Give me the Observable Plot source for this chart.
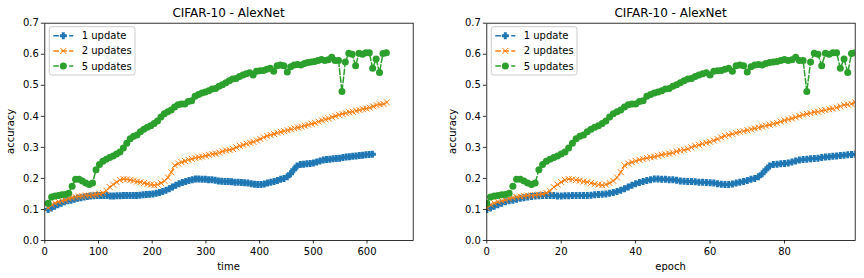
<!DOCTYPE html>
<html><head><meta charset="utf-8">
<script src="https://cdn.jsdelivr.net/npm/d3@7"></script>
<script src="https://cdn.jsdelivr.net/npm/@observablehq/plot@0.6"></script>
<style>
html,body{margin:0;padding:0;background:#fff;}
#wrap{display:flex;width:864px;height:278px;}
svg{display:block}
</style></head><body><div id="wrap"></div>
<script>
const title = "CIFAR-10 - AlexNet";
const seriesNames = ["1 update", "2 updates", "5 updates"];
const colors = ["#1f77b4", "#ff7f0e", "#2ca02c"];
const secondsPerEpoch = [6.1, 6.37, 6.36];
const epochs = d3.range(100);
const acc1 = [0.100,0.105,0.110,0.115,0.120,0.125,0.128,0.130,0.133,0.136,
 0.138,0.140,0.142,0.143,0.144,0.145,0.145,0.145,0.145,0.143,
 0.143,0.144,0.144,0.145,0.145,0.145,0.145,0.145,0.146,0.147,
 0.148,0.149,0.150,0.152,0.155,0.158,0.162,0.167,0.172,0.178,
 0.183,0.187,0.190,0.193,0.196,0.198,0.198,0.197,0.197,0.196,
 0.196,0.194,0.192,0.191,0.190,0.190,0.189,0.188,0.188,0.187,
 0.186,0.185,0.183,0.181,0.180,0.180,0.182,0.185,0.188,0.190,
 0.193,0.197,0.200,0.205,0.215,0.228,0.240,0.245,0.246,0.247,
 0.248,0.250,0.253,0.256,0.259,0.261,0.262,0.263,0.264,0.265,
 0.267,0.269,0.270,0.271,0.272,0.274,0.275,0.276,0.277,0.278];
const acc2 = [0.105,0.115,0.120,0.125,0.128,0.130,0.135,0.138,0.140,0.142,
 0.143,0.145,0.145,0.146,0.148,0.150,0.153,0.160,0.172,0.180,
 0.188,0.195,0.198,0.197,0.195,0.193,0.190,0.188,0.185,0.182,
 0.180,0.178,0.180,0.185,0.192,0.203,0.220,0.242,0.248,0.252,
 0.256,0.260,0.263,0.266,0.268,0.270,0.273,0.276,0.278,0.280,
 0.283,0.287,0.290,0.292,0.295,0.300,0.305,0.308,0.312,0.315,
 0.318,0.322,0.327,0.332,0.337,0.340,0.343,0.347,0.350,0.352,
 0.355,0.358,0.361,0.364,0.367,0.370,0.373,0.376,0.379,0.383,
 0.387,0.390,0.393,0.397,0.401,0.405,0.408,0.410,0.413,0.415,
 0.418,0.420,0.423,0.425,0.428,0.432,0.436,0.438,0.440,0.445];
const acc5 = [0.120,0.140,0.143,0.145,0.147,0.148,0.152,0.175,0.197,0.197,
 0.192,0.185,0.180,0.185,0.228,0.245,0.255,0.262,0.267,0.272,
 0.279,0.285,0.298,0.313,0.328,0.336,0.340,0.350,0.358,0.365,
 0.370,0.377,0.385,0.398,0.408,0.415,0.420,0.430,0.437,0.440,
 0.440,0.448,0.450,0.465,0.470,0.475,0.478,0.482,0.488,0.490,
 0.497,0.502,0.508,0.515,0.520,0.522,0.528,0.533,0.537,0.540,
 0.533,0.545,0.547,0.548,0.552,0.555,0.545,0.563,0.565,0.563,
 0.543,0.560,0.565,0.567,0.565,0.570,0.573,0.575,0.577,0.580,
 0.583,0.580,0.582,0.590,0.580,0.580,0.480,0.575,0.603,0.600,
 0.563,0.603,0.600,0.605,0.605,0.555,0.585,0.541,0.602,0.605];
const timeTicks = [0, 100, 200, 300, 400, 500, 600];
const epochTicks = [0, 20, 40, 60, 80];
const accTicks = [0, 0.1, 0.2, 0.3, 0.4, 0.5, 0.6, 0.7];

const accs = [acc1, acc2, acc5];
const rows = seriesNames.map((name, s) => epochs.map((e, i) => ({
  series: name, epoch: e, time: (e + 1) * secondsPerEpoch[s], acc: accs[s][i]
})));

const plusFilled = {draw(ctx, size) {
  const r = Math.sqrt(size / Math.PI), w = r * 3 / 7;
  ctx.moveTo(-w, -r); ctx.lineTo(w, -r); ctx.lineTo(w, -w); ctx.lineTo(r, -w);
  ctx.lineTo(r, w); ctx.lineTo(w, w); ctx.lineTo(w, r); ctx.lineTo(-w, r);
  ctx.lineTo(-w, w); ctx.lineTo(-r, w); ctx.lineTo(-r, -w); ctx.lineTo(-w, -w);
  ctx.closePath();
}};
const cross = {draw(ctx, size) {
  const r = Math.sqrt(size / Math.PI);
  ctx.moveTo(-r, -r); ctx.lineTo(r, r); ctx.moveTo(-r, r); ctx.lineTo(r, -r);
}};
const DASH = "5.55,2.4";

function seriesMarks(xKey) {
  const marks = [];
  rows.forEach((data, s) => {
    marks.push(Plot.line(data, {x: xKey, y: "acc", stroke: colors[s], strokeWidth: 1.5, strokeDasharray: DASH, clip: true}));
    if (s === 0) marks.push(Plot.dot(data, {x: xKey, y: "acc", symbol: plusFilled, r: 3.5, fill: colors[0], stroke: "none", clip: true}));
    else if (s === 1) marks.push(Plot.dot(data, {x: xKey, y: "acc", symbol: cross, r: 3, fill: "none", stroke: colors[1], strokeWidth: 1, clip: true}));
    else marks.push(Plot.dot(data, {x: xKey, y: "acc", r: 3.5, fill: colors[2], stroke: "none", clip: true}));
  });
  return marks;
}

function panel({xKey, xDomain, xTicks, xLabel, marginLeft, marginRight, yLabelX}) {
  const mt = 22.7, mb = 38, W = 432, H = 278;
  const chart = Plot.plot({
    width: W, height: H, marginLeft, marginRight, marginTop: mt, marginBottom: mb,
    style: {fontFamily: "'DejaVu Sans', sans-serif", fontSize: "10px", color: "#000", background: "#fff", overflow: "visible"},
    x: {domain: xDomain},
    y: {domain: [0, 0.7]},
    marks: [
      ...seriesMarks(xKey),
      Plot.frame({stroke: "#000", strokeWidth: 0.8}),
      Plot.axisX({ticks: xTicks, tickSize: 3.5, tickPadding: 4, label: null, tickFormat: d => String(d), strokeWidth: 0.8}),
      Plot.axisY({ticks: accTicks, tickSize: 3.5, tickPadding: 2.5, label: null, tickFormat: d3.format(".1f"), strokeWidth: 0.8})
    ]
  });
  const svg = d3.select(chart);
  const cx = marginLeft + (W - marginLeft - marginRight) / 2;
  svg.append("text").attr("x", cx).attr("y", 17.3).attr("text-anchor", "middle")
    .attr("font-size", 12).attr("fill", "#000").text(title);
  svg.append("text").attr("x", cx).attr("y", 269.6).attr("text-anchor", "middle")
    .attr("font-size", 10).attr("fill", "#000").text(xLabel);
  svg.append("text").attr("transform", `translate(${yLabelX},${(mt + H - mb) / 2}) rotate(-90)`)
    .attr("text-anchor", "middle").attr("font-size", 10).attr("fill", "#000").text("accuracy");
  // legend
  const lx = marginLeft + 5, ly = 26.7;
  const g = svg.append("g").attr("text-anchor", "start");
  g.append("rect").attr("x", lx).attr("y", ly).attr("width", 85.7).attr("height", 48.3).attr("rx", 2.5)
    .attr("fill", "#fff").attr("fill-opacity", 0.8).attr("stroke", "#ccc").attr("stroke-width", 1);
  seriesNames.forEach((name, s) => {
    const cy = 35.7 + s * 15.2;
    const mx = lx + 14;
    g.append("line").attr("x1", lx + 4).attr("x2", lx + 24).attr("y1", cy).attr("y2", cy)
      .attr("stroke", colors[s]).attr("stroke-width", 1.5).attr("stroke-dasharray", DASH);
    if (s === 0) {
      const p = d3.path(); plusFilled.draw(p, 3.5 * 3.5 * Math.PI);
      g.append("path").attr("transform", `translate(${mx},${cy})`).attr("d", p.toString()).attr("fill", colors[0]);
    } else if (s === 1) {
      const p = d3.path(); cross.draw(p, 3 * 3 * Math.PI);
      g.append("path").attr("transform", `translate(${mx},${cy})`).attr("d", p.toString()).attr("fill", "none").attr("stroke", colors[1]).attr("stroke-width", 1);
    } else {
      g.append("circle").attr("cx", mx).attr("cy", cy).attr("r", 3.5).attr("fill", colors[2]);
    }
    g.append("text").attr("x", lx + 32.4).attr("y", cy).attr("dy", "0.35em").attr("text-anchor", "start")
      .attr("font-size", 10).attr("fill", "#000").text(name);
  });
  return chart;
}

const wrap = document.getElementById("wrap");
wrap.appendChild(panel({xKey: "time", xDomain: [0, 686], xTicks: timeTicks, xLabel: "time", marginLeft: 44.3, marginRight: 19.3, yLabelX: 14}));
wrap.appendChild(panel({xKey: "epoch", xDomain: [0, 99], xTicks: epochTicks, xLabel: "epoch", marginLeft: 54.3, marginRight: 9.3, yLabelX: 24}));
</script></body></html>
